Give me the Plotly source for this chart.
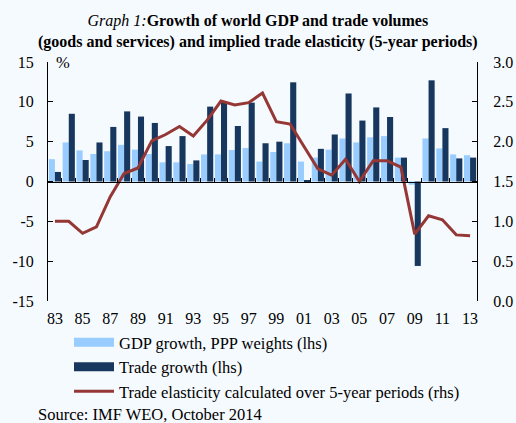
import plotly.graph_objects as go

# Years 1983-2013
years = list(range(1983, 2014))

# World GDP growth at PPP weights, % (lhs)
gdp_growth = [2.8, 4.9, 3.9, 3.45, 3.8, 4.6, 4.0, 3.45, 2.4, 2.4,
              2.2, 3.4, 3.4, 3.95, 4.2, 2.5, 3.7, 4.8, 2.5, 3.0,
              4.0, 5.4, 4.9, 5.55, 5.7, 3.0, -0.4, 5.4, 4.15, 3.4, 3.3]

# World trade volume growth, goods and services, % (lhs)
trade_growth = [1.2, 8.5, 2.7, 4.9, 6.85, 8.8, 8.15, 7.35, 4.45, 5.7,
                2.65, 9.4, 10.0, 6.97, 9.9, 4.8, 5.0, 12.45, 0.1, 4.1,
                5.9, 11.05, 7.65, 9.3, 8.1, 3.0, -10.6, 12.7, 6.7, 2.9, 3.0]

# Trade elasticity over 5-year periods (rhs)
elasticity = [1.0, 1.0, 0.85, 0.93, 1.31, 1.60, 1.67, 2.01, 2.09, 2.19,
              2.07, 2.27, 2.51, 2.46, 2.49, 2.61, 2.25, 2.22, 1.94, 1.66,
              1.58, 1.78, 1.50, 1.76, 1.76, 1.68, 0.84, 1.07, 1.02, 0.83, 0.82]

# Axis ticks
lhs_ticks = [-15, -10, -5, 0, 5, 10, 15]
lhs_labels = ["-15", "-10", "-5", "0", "5", "10", "15"]
rhs_ticks = [0.0, 0.5, 1.0, 1.5, 2.0, 2.5, 3.0]
rhs_labels = ["0.0", "0.5", "1.0", "1.5", "2.0", "2.5", "3.0"]
year_ticks = list(range(1983, 2014, 2))
year_labels = [str(y)[-2:] for y in year_ticks]

title_text = ("<i>Graph 1:</i><b>Growth of world GDP and trade volumes</b><br>"
              "<b>(goods and services) and implied trade elasticity (5-year periods)</b>")

LIGHT = "#99CCFF"
DARK = "#17375E"
RED = "#953735"
BG = "#F5FAFE"
FONT = "Liberation Serif"
TXT = dict(family=FONT, size=16.5, color="black")
TICK = dict(family=FONT, size=16, color="black")

W, H = 516, 423
ML, MR, MT, MB = 48, 39, 62, 122
PW, PH = W - ML - MR, H - MT - MB


def px_x(px):
    """Horizontal page pixel -> paper fraction."""
    return (px - ML) / PW


def px_y(py):
    """Vertical page pixel (from top) -> paper fraction."""
    return (H - MB - py) / PH


names = ["GDP growth, PPP weights (lhs)",
         "Trade growth (lhs)",
         "Trade elasticity calculated over 5-year periods (rhs)"]

fig = go.Figure()

fig.add_trace(go.Bar(x=years, y=gdp_growth, marker_color=LIGHT,
                     marker_line_width=0, showlegend=False, name=names[0]))
fig.add_trace(go.Bar(x=years, y=trade_growth, marker_color=DARK,
                     marker_line_width=0, showlegend=False, name=names[1]))
fig.add_trace(go.Scatter(x=years, y=elasticity, yaxis="y2", mode="lines",
                         line=dict(color=RED, width=3), showlegend=False,
                         name=names[2]))

# Legend entries with long swatches
for name, col, w in [(names[0], LIGHT, 9), (names[1], DARK, 9), (names[2], RED, 3)]:
    fig.add_trace(go.Scatter(x=[None], y=[None], mode="lines", name=name,
                             line=dict(color=col, width=w)))

# Helper trace so the zero-line axis is drawn
fig.add_trace(go.Scatter(x=[None], y=[None], xaxis="x2", showlegend=False,
                         hoverinfo="skip"))

xrange = [1982.5, 2013.5]
boundaries = [y + 0.5 for y in years[:-1]]

annotations = [
    dict(text=title_text, x=px_x(W / 2), y=px_y(31), xref="paper", yref="paper",
         xanchor="center", yanchor="middle", showarrow=False,
         font=dict(family=FONT, size=16, color="black")),
    dict(text="%", x=px_x(54), y=1.0, xref="paper", yref="paper",
         xanchor="left", yanchor="middle", showarrow=False, font=TXT),
    dict(text="Source: IMF WEO, October 2014", x=px_x(36), y=px_y(414),
         xref="paper", yref="paper", xanchor="left", yanchor="middle",
         showarrow=False, font=TXT),
]

fig.update_layout(
    template="none",
    width=W, height=H,
    margin=dict(l=ML, r=MR, t=MT, b=MB, autoexpand=False),
    paper_bgcolor=BG, plot_bgcolor=BG,
    font=TXT,
    barmode="group", bargap=0.12, bargroupgap=0,
    xaxis=dict(range=xrange, showline=False, showgrid=False, zeroline=False,
               tickmode="array", tickvals=year_ticks, ticktext=year_labels,
               ticks="", ticklabelstandoff=6, tickfont=TICK, automargin=False),
    xaxis2=dict(range=xrange, overlaying="x", anchor="free", position=0.5,
                showline=True, linecolor="black", linewidth=1,
                showgrid=False, zeroline=False, showticklabels=False,
                tickmode="array", tickvals=boundaries, ticks="inside",
                ticklen=4, tickcolor="black", tickwidth=1, automargin=False),
    yaxis=dict(range=[-15, 15], tickmode="array", tickvals=lhs_ticks,
               ticktext=lhs_labels, showline=True, linecolor="black",
               linewidth=1, ticks="inside", ticklen=5, tickcolor="black",
               showgrid=False, zeroline=False, ticklabelstandoff=10,
               tickfont=TICK, automargin=False),
    yaxis2=dict(range=[0, 3], overlaying="y", side="right",
                tickmode="array", tickvals=rhs_ticks, ticktext=rhs_labels,
                showline=True, linecolor="black", linewidth=1,
                ticks="inside", ticklen=5, tickcolor="black",
                showgrid=False, zeroline=False, ticklabelstandoff=12,
                tickfont=TICK, automargin=False),
    legend=dict(x=px_x(69), y=px_y(325), xanchor="left", yanchor="top",
                bgcolor="rgba(0,0,0,0)", itemwidth=40, font=TXT),
    annotations=annotations,
)

fig.write_html("out.html")
